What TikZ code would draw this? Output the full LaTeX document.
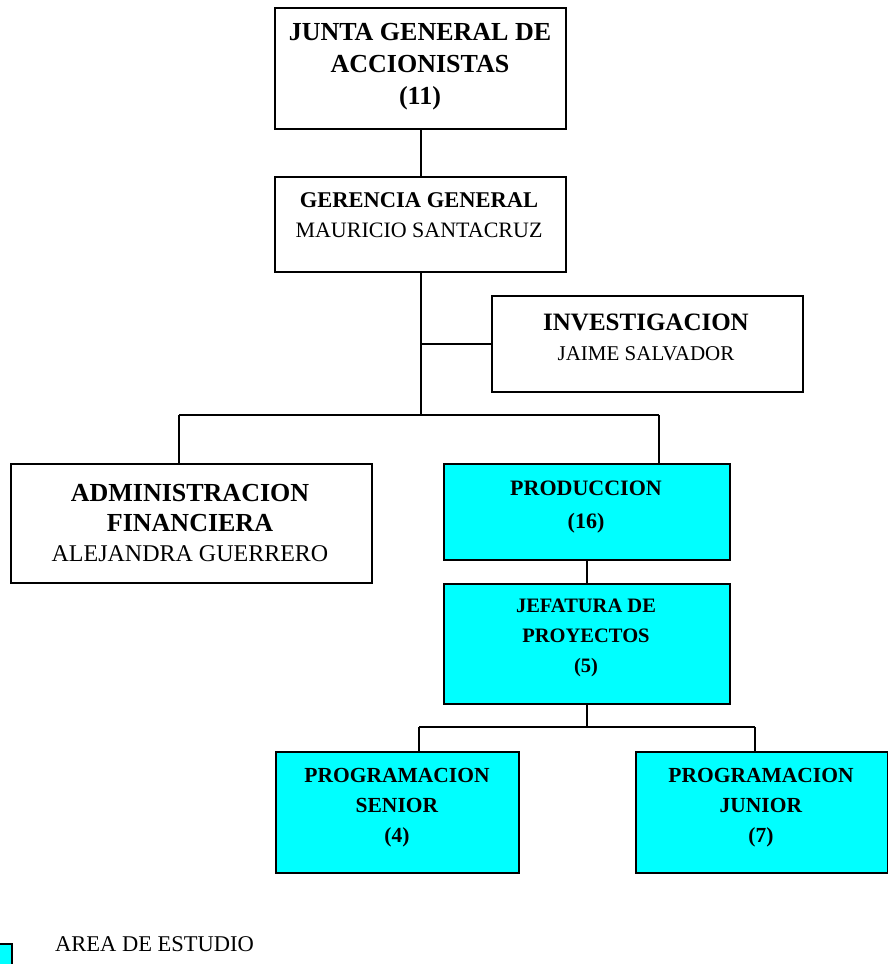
\documentclass[tikz,border=0pt]{standalone}
\usepackage{fontspec}
\setmainfont{Liberation Serif}
\definecolor{area}{HTML}{00FFFF}
\newcommand{\fsz}[2]{\fontsize{#1}{#2}\selectfont}
\begin{document}
\begin{tikzpicture}[x=1pt,y=-1pt,
  box/.style={draw=black,line width=2pt,fill=white,inner sep=0pt,anchor=north west},
  studybox/.style={box,fill=area},
  txt/.style={align=center,inner sep=0pt,font=\fsz{22}{30}},
  conn/.style={draw=black,line width=2pt}]
\useasboundingbox (0,0) rectangle (888,964);
\clip (0,0) rectangle (888,964);

% organisation boxes (top-left corner, width x height)
\node[box,minimum width=291pt,minimum height=121pt] (junta) at (274,7) {};
\node[box,minimum width=291pt,minimum height=95pt] (ger) at (274,176) {};
\node[box,minimum width=311pt,minimum height=96pt] (inv) at (491,295) {};
\node[box,minimum width=361pt,minimum height=119pt] (adm) at (10,463) {};
\node[studybox,minimum width=286pt,minimum height=96pt] (prod) at (443,463) {};
\node[studybox,minimum width=286pt,minimum height=120pt] (jef) at (443,583) {};
\node[studybox,minimum width=243pt,minimum height=121pt] (sen) at (275,751) {};
\node[studybox,minimum width=252pt,minimum height=121pt] (jun) at (635,751) {};

% box labels
\node[txt,font=\fsz{26}{32}] (juntaT) at (420,67) {\textbf{JUNTA GENERAL DE}\\\textbf{ACCIONISTAS}\\\textbf{(11)}};
\node[txt] (gerT) at (419,215) {{\fsz{22.5}{30}\textbf{GERENCIA GENERAL}}\\MAURICIO SANTACRUZ};
\node[txt] (invT) at (646,337) {{\fsz{25}{30}\textbf{INVESTIGACION}}\\{\fsz{21}{30}JAIME SALVADOR}};
\node[txt,font=\fsz{26}{30}] (admT) at (190,523) {\textbf{ADMINISTRACION}\\\textbf{FINANCIERA}\\{\fsz{24}{30}ALEJANDRA GUERRERO}};
\node[txt,font=\fsz{22}{33}] (prodT) at (586,507) {\textbf{PRODUCCION}\\\textbf{(16)}};
\node[txt,font=\fsz{20.5}{30}] (jefT) at (586,638) {\textbf{JEFATURA DE}\\\textbf{PROYECTOS}\\\textbf{(5)}};
\node[txt,font=\fsz{21.5}{30}] (senT) at (397,808) {\textbf{PROGRAMACION}\\\textbf{SENIOR}\\\textbf{(4)}};
\node[txt,font=\fsz{21.5}{30}] (junT) at (761,808) {\textbf{PROGRAMACION}\\\textbf{JUNIOR}\\\textbf{(7)}};

% junction points of the connector tree
\coordinate (hub) at (ger.south |- 0,415);
\coordinate (aj) at (179,415);
\coordinate (pj) at (659,415);
\coordinate (jhub) at (jef.south |- 0,727);
\coordinate (sj) at (419,727);
\coordinate (nj) at (755,727);

% connectors
\draw[conn] (junta.south -| ger.north) -- (ger.north);
\draw[conn] (ger.south) -- (hub);
\draw[conn] (ger.south |- inv.west) -- (inv.west);
\draw[conn] (aj) -- (pj);
\draw[conn] (aj) -- (aj |- adm.north);
\draw[conn] (pj) -- (pj |- prod.north);
\draw[conn] (prod.south) -- (jef.north);
\draw[conn] (jef.south) -- (jhub);
\draw[conn] (sj) -- (nj);
\draw[conn] (sj) -- (sj |- sen.north);
\draw[conn] (nj) -- (nj |- jun.north);

% legend
\node[studybox,minimum width=30pt,minimum height=40pt] (legend) at (-19,943) {};
\node[txt,anchor=west,font=\fsz{22.5}{30}] (legendT) at (55,944) {AREA DE ESTUDIO};
\end{tikzpicture}
\end{document}
